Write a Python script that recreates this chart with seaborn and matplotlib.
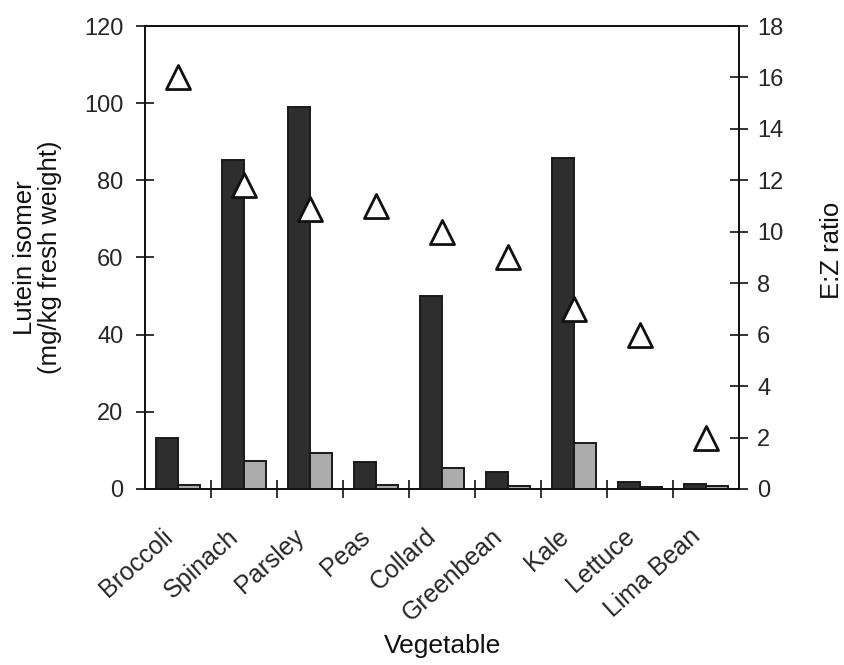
import numpy as np
import pandas as pd
import matplotlib
matplotlib.use("Agg")
import matplotlib.pyplot as plt
from matplotlib.ticker import FixedLocator
from matplotlib.transforms import ScaledTranslation
import seaborn as sns

# Lutein isomer content (mg/kg fresh weight) and E:Z ratio per vegetable
vegetables = ["Broccoli", "Spinach", "Parsley", "Peas", "Collard",
              "Greenbean", "Kale", "Lettuce", "Lima Bean"]
e_isomer = [13.1, 85.3, 99.1, 7.0, 50.0, 4.3, 85.8, 1.8, 1.4]
z_isomer = [1.0, 7.2, 9.3, 1.0, 5.4, 0.9, 12.0, 0.5, 0.9]
ez_ratio = [16.0, 11.8, 10.9, 11.0, 10.0, 9.0, 7.0, 6.0, 2.0]

left_ticks = [0, 20, 40, 60, 80, 100, 120]
right_ticks = [0, 2, 4, 6, 8, 10, 12, 14, 16, 18]

df = pd.DataFrame({
    "Vegetable": vegetables * 2,
    "Isomer": ["E"] * len(vegetables) + ["Z"] * len(vegetables),
    "Content": e_isomer + z_isomer,
})

sns.set_theme(style="white")
plt.rcParams["font.family"] = ["Liberation Sans", "DejaVu Sans"]
plt.rcParams["text.color"] = "#111111"
plt.rcParams["axes.labelcolor"] = "#111111"

fig = plt.figure(figsize=(8.45, 6.65), dpi=100)
ax = fig.add_axes([0.1716, 0.2647, 0.7030, 0.6962])

sns.barplot(data=df, x="Vegetable", y="Content", hue="Isomer",
            order=vegetables, hue_order=["E", "Z"],
            palette={"E": "#2e2e2e", "Z": "#acacac"},
            width=0.66, edgecolor="#1a1a1a", linewidth=1.4,
            legend=False, ax=ax)

ax.set_xlim(-0.5, len(vegetables) - 0.5)
ax.set_ylim(0, 120)
ax.yaxis.set_major_locator(FixedLocator(left_ticks))

ax2 = ax.twinx()
positions = np.arange(len(vegetables))
sns.scatterplot(x=positions, y=ez_ratio, ax=ax2, marker="^", s=300,
                color="white", edgecolor="#111111", linewidth=2.0,
                zorder=5, legend=False)
ax2.set_ylim(0, 18)
ax2.yaxis.set_major_locator(FixedLocator(right_ticks))
ax2.set_xlim(-0.5, len(vegetables) - 0.5)

for a in (ax, ax2):
    for side in ("left", "right", "top", "bottom"):
        a.spines[side].set_visible(True)
        a.spines[side].set_color("#111111")
        a.spines[side].set_linewidth(1.3)

# category labels at centres, separator ticks between categories
ax.set_xticks(positions)
ax.xaxis.set_minor_locator(FixedLocator(positions[:-1] + 0.5))
ax.tick_params(axis="x", which="major", length=0, pad=32)
ax.tick_params(axis="x", which="minor", direction="inout", length=13,
               width=1.2, color="#111111", bottom=True)

ax.tick_params(axis="y", which="major", direction="inout", length=13,
               width=1.2, color="#111111", labelsize=17, pad=9, left=True)
ax2.tick_params(axis="y", which="major", direction="inout", length=13,
                width=1.2, color="#111111", labelsize=17, pad=6.5, right=True)

ax.set_xticklabels(vegetables, rotation=42, ha="right", va="center",
                   rotation_mode="anchor", fontsize=18)

ax.set_xlabel("Vegetable", fontsize=19)
ax.xaxis.set_label_coords(0.5, -0.313)
ax.set_ylabel("Lutein isomer\n(mg/kg fresh weight)", fontsize=18.5,
              linespacing=1.05)
ax.yaxis.set_label_coords(-0.140, 0.5)
ax2.set_ylabel("E:Z ratio", fontsize=18.5)
ax2.yaxis.set_label_coords(1.1364, 0.515)

# nudge the slanted category labels slightly left of their centres
fig.canvas.draw()
shift = ScaledTranslation(-9 / 100, 0, fig.dpi_scale_trans)
for tick in ax.xaxis.get_major_ticks():
    tick.label1.set_transform(tick.label1.get_transform() + shift)

fig.savefig("out.png", dpi=100, facecolor="white")
